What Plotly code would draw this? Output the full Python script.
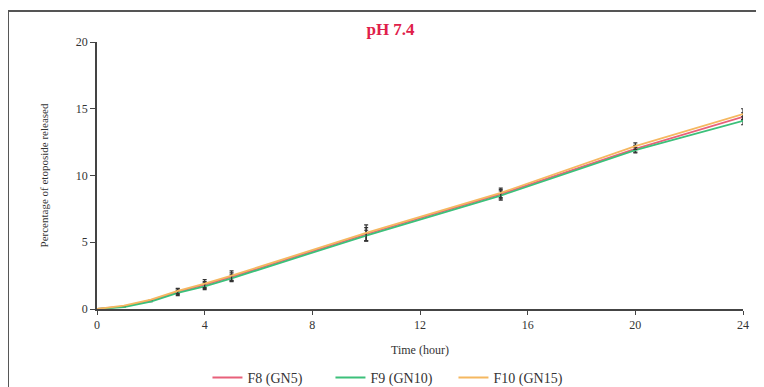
import plotly.graph_objects as go

time_h = [0, 1, 2, 3, 4, 5, 10, 15, 20, 24]
f8 = [0, 0.2, 0.65, 1.3, 1.8, 2.4, 5.6, 8.6, 12.0, 14.4]
f9 = [0, 0.15, 0.55, 1.2, 1.7, 2.3, 5.5, 8.5, 11.9, 14.1]
f10 = [0, 0.25, 0.7, 1.35, 1.9, 2.5, 5.7, 8.7, 12.2, 14.6]
f8_err = [0, 0, 0, 0.2, 0.25, 0.3, 0.5, 0.35, 0.25, 0.3]
f9_err = [0, 0, 0, 0.2, 0.25, 0.25, 0.4, 0.35, 0.2, 0.3]
f10_err = [0, 0, 0, 0.2, 0.3, 0.35, 0.6, 0.35, 0.25, 0.4]
names = ["F8 (GN5)", "F9 (GN10)", "F10 (GN15)"]
colors = ["#e8607a", "#3cc07a", "#f5b860"]
series = [f8, f9, f10]
errs = [f8_err, f9_err, f10_err]

fig = go.Figure()
for name, col, ys, er in zip(names, colors, series, errs):
    fig.add_trace(go.Scatter(
        x=time_h, y=ys, mode="lines", name=name,
        line=dict(color=col, width=1.8),
        error_y=dict(type="data", array=er, visible=True, color="#333333",
                     thickness=1.2, width=2),
    ))

font_family = "Liberation Serif"
fig.update_layout(
    width=756, height=379,
    margin=dict(l=89, r=21, t=34, b=78, autoexpand=False),
    paper_bgcolor="white", plot_bgcolor="white",
    font=dict(family=font_family, size=11, color="#333333"),
    title=dict(text="<b>pH 7.4</b>", x=0.506, xanchor="center", y=0.945, yanchor="middle",
               font=dict(family=font_family, size=17, color="#e0204a")),
    showlegend=True,
    legend=dict(orientation="h", x=0.171, xanchor="left", y=-0.258, yanchor="middle",
                font=dict(family=font_family, size=14, color="#333333"),
                itemwidth=30, tracegroupgap=0, entrywidth=78),
    xaxis=dict(range=[0, 24], dtick=4, tick0=0, showgrid=False, zeroline=False,
               automargin=False,
               showline=True, linecolor="#444444", linewidth=1.5,
               ticks="outside", ticklen=4, tickcolor="#444444",
               tickfont=dict(size=12),
               title=dict(text="Time (hour)", standoff=14,
                          font=dict(family=font_family, size=12))),
    yaxis=dict(range=[0, 20], dtick=5, tick0=0, showgrid=False, zeroline=False,
               automargin=False,
               showline=True, linecolor="#444444", linewidth=1.5,
               ticks="outside", ticklen=5, tickcolor="#444444",
               tickfont=dict(size=12),
               title=dict(text="Percentage of etoposide released", standoff=25,
                          font=dict(family=font_family, size=11))),
    shapes=[dict(type="rect", xref="paper", yref="paper",
                 x0=-0.1378, x1=1.036, y0=-0.296, y1=1.116,
                 line=dict(color="#555555", width=2))],
)

fig.write_html("out.html")
